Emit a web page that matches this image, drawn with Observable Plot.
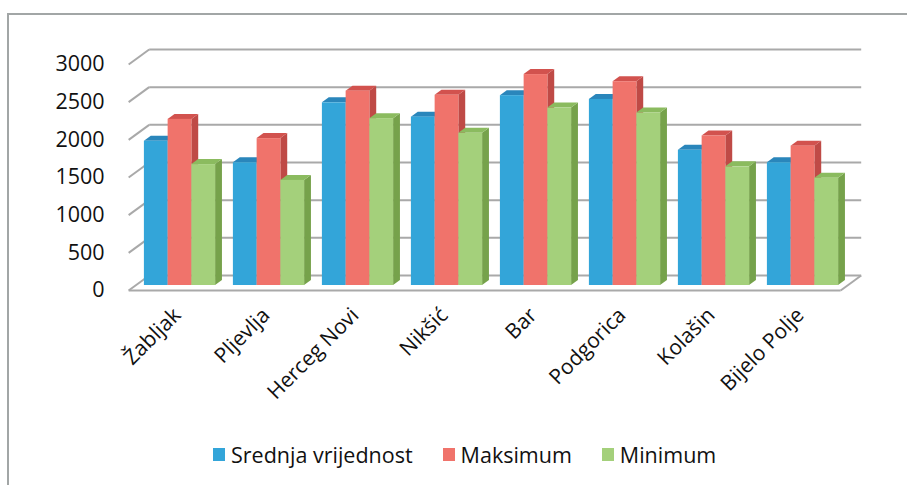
<!DOCTYPE html>
<html>
<head>
<meta charset="utf-8">
<script src="https://cdn.jsdelivr.net/npm/d3@7"></script>
<script src="https://cdn.jsdelivr.net/npm/@observablehq/plot@0.6"></script>
<style>
  html, body { margin: 0; padding: 0; background: #fff; }
  body { width: 907px; height: 485px; position: relative; overflow: hidden; font-family: "Open Sans", sans-serif; }
  #frame { position: absolute; left: 7px; top: 13px; width: 960px; height: 520px;
           border-top: 2px solid #a2a6a6; border-left: 2px solid #a2a6a6; pointer-events: none; }
  #chart { position: absolute; left: 0; top: 0; }
  #legend { position: absolute; left: 213px; top: 440px; display: flex; align-items: center;
            font-size: 21.5px; color: #111; white-space: nowrap; }
  #legend .item { display: flex; align-items: center; margin-right: 30px; }
  #legend .sw { width: 12px; height: 13px; margin-right: 6px; }
</style>
</head>
<body>
<div id="chart"></div>
<div id="frame"></div>
<div id="legend"></div>
<script>
// Stations (categories) and yearly values per series
const categories = ["Žabljak", "Pljevlja", "Herceg Novi", "Nikšić", "Bar", "Podgorica", "Kolašin", "Bijelo Polje"];
const srednja  = [1915, 1630, 2425, 2235, 2520, 2470, 1795, 1630];
const maksimum = [2205, 1950, 2580, 2525, 2800, 2705, 1985, 1850];
const minimum  = [1605, 1395, 2215, 2020, 2355, 2290, 1575, 1425];
const seriesNames = ["Srednja vrijednost", "Maksimum", "Minimum"];
const yTicks = [0, 500, 1000, 1500, 2000, 2500, 3000];

// Face colours per series: front, top, side
const frontColors = ["#33a5d9", "#f0736b", "#a4d07b"];
const topColors   = ["#2a86bb", "#d2524e", "#8bbb5f"];
const sideColors  = ["#2a7aab", "#bf4a46", "#76a24b"];

const seriesValues = [srednja, maksimum, minimum];

// Plot geometry
const W = 907, H = 440;
const marginLeft = 135, marginRight = 60, marginTop = 59, marginBottom = 155;
const xDomain = [-0.5, categories.length - 0.5];
const yDomain = [0, 3000];
const pxPerX = (W - marginLeft - marginRight) / (xDomain[1] - xDomain[0]);
const pxPerY = (H - marginTop - marginBottom) / (yDomain[1] - yDomain[0]);

// Oblique depth: shift of k pixels upward (and 1.37k to the right), in data units
const depth = k => ({dx: (k * 1.37) / pxPerX, dy: k / pxPerY});
const barD = depth(5);    // thickness of each column
const front = depth(-5);  // front edge of floor / axis plane
const back = depth(10);   // back wall

const groupWidth = 0.8;
const bw = groupWidth / seriesNames.length;

const bars = [];
seriesNames.forEach((name, s) => {
  categories.forEach((cat, i) => {
    const x1 = i - groupWidth / 2 + s * bw;
    bars.push({cat, name, s, i, value: seriesValues[s][i], x1, x2: x1 + bw});
  });
});

// Side faces: two vertical edges per bar
const sidePts = bars.flatMap(b => [
  {key: b.name + b.cat, s: b.s, x: b.x2, y1: 0, y2: b.value},
  {key: b.name + b.cat, s: b.s, x: b.x2 + barD.dx, y1: barD.dy, y2: b.value + barD.dy}
]);
// Top faces: two horizontal edges per bar
const topPts = bars.flatMap(b => [
  {key: b.name + b.cat, s: b.s, y: b.value, x1: b.x1, x2: b.x2},
  {key: b.name + b.cat, s: b.s, y: b.value + barD.dy, x1: b.x1 + barD.dx, x2: b.x2 + barD.dx}
]);

const xl = xDomain[0], xr = xDomain[1];
const gridColor = "#a9a9a9";

const chart = Plot.plot({
  width: W,
  height: H,
  marginLeft, marginRight, marginTop, marginBottom,
  style: {background: "transparent", overflow: "visible", fontFamily: "'Open Sans', sans-serif"},
  x: {type: "linear", domain: xDomain, axis: null},
  y: {type: "linear", domain: yDomain, axis: null},
  marks: [
    // back wall gridlines
    Plot.link(yTicks, {
      x1: () => xl + back.dx, x2: () => xr + back.dx,
      y1: d => d + back.dy, y2: d => d + back.dy,
      stroke: gridColor, strokeWidth: 2
    }),
    // left wall gridlines (oblique)
    Plot.link(yTicks, {
      x1: () => xl + front.dx, y1: d => d + front.dy,
      x2: () => xl + back.dx, y2: d => d + back.dy,
      stroke: gridColor, strokeWidth: 2
    }),
    // floor: front edge and right edge
    Plot.link([0], {
      x1: () => xl + front.dx, y1: d => d + front.dy,
      x2: () => xr + front.dx, y2: d => d + front.dy,
      stroke: gridColor, strokeWidth: 2
    }),
    Plot.link([0], {
      x1: () => xr + front.dx, y1: d => d + front.dy,
      x2: () => xr + back.dx, y2: d => d + back.dy,
      stroke: gridColor, strokeWidth: 2
    }),
    // column sides
    Plot.areaY(sidePts, {x: "x", y1: "y1", y2: "y2", z: "key", fill: d => sideColors[d.s]}),
    // column tops
    Plot.areaX(topPts, {y: "y", x1: "x1", x2: "x2", z: "key", fill: d => topColors[d.s]}),
    // column fronts
    Plot.rect(bars, {x1: "x1", x2: "x2", y1: 0, y2: "value", fill: d => frontColors[d.s]}),
    // value axis labels
    Plot.text(yTicks, {
      x: () => xl + front.dx, y: d => d + front.dy, text: d => String(d),
      dx: -24, textAnchor: "end", fontSize: 21.5, fill: "#111"
    }),
    // category labels
    Plot.text(categories, {
      x: (d, i) => i, frameAnchor: "bottom", text: d => d,
      dx: 2, dy: 31, rotate: -45, textAnchor: "end", lineAnchor: "bottom",
      fontSize: 21, fill: "#111"
    })
  ]
});
document.getElementById("chart").appendChild(chart);

// Legend below the chart
const legend = d3.select("#legend");
seriesNames.forEach((name, s) => {
  const item = legend.append("div").attr("class", "item");
  item.append("div").attr("class", "sw").style("background", frontColors[s]);
  item.append("span").text(name);
});
</script>
</body>
</html>
